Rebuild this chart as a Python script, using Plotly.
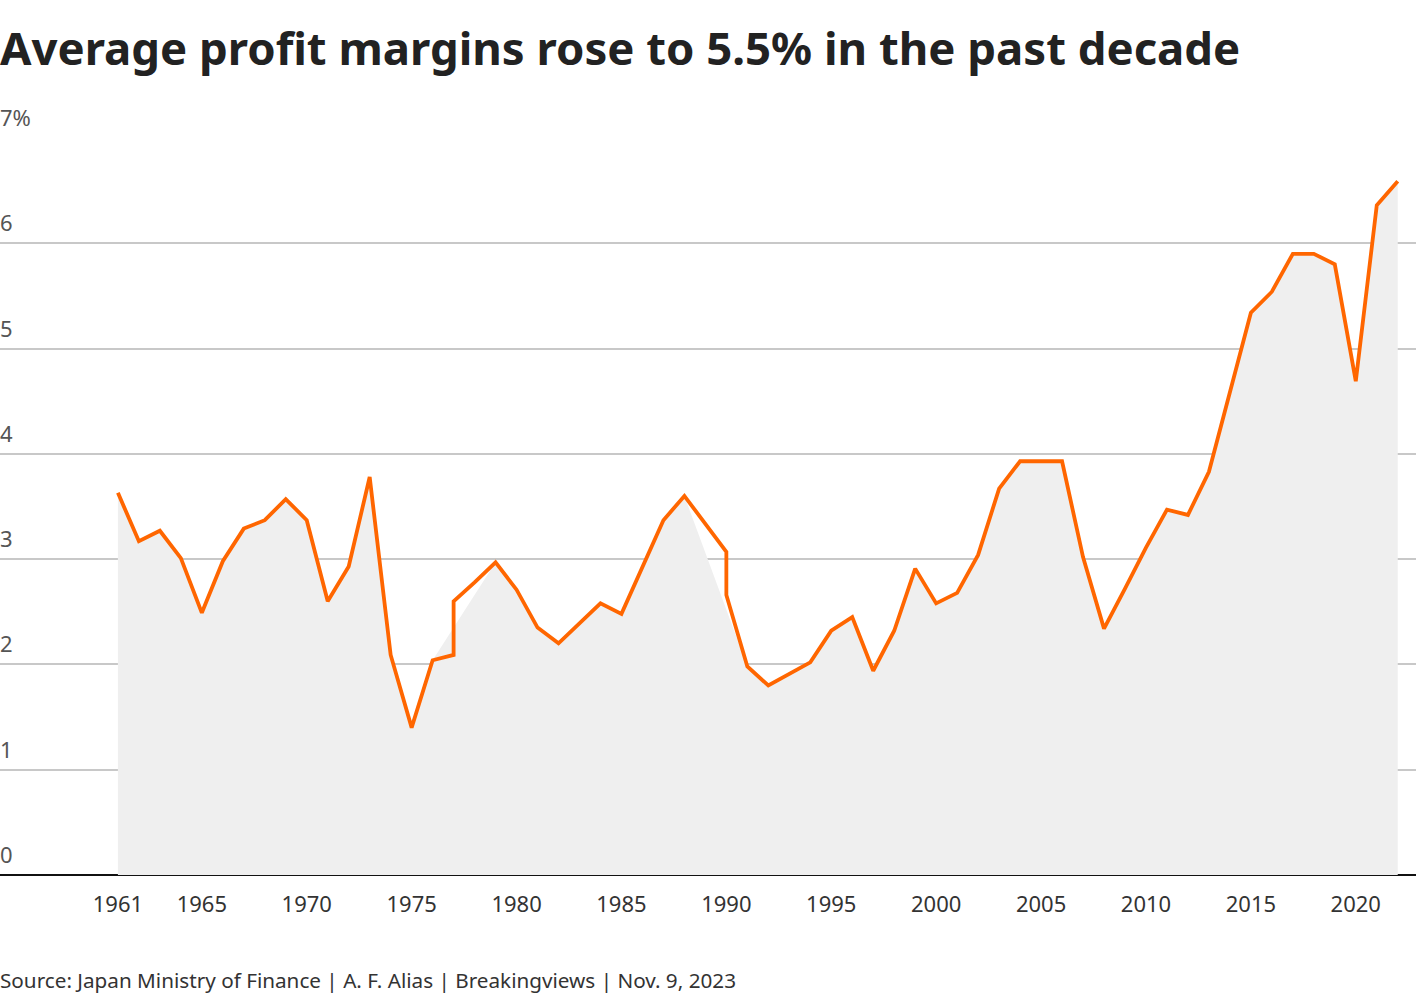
import plotly.graph_objects as go

# Line series (two points at 1977 and 1990 reflect vertical steps in the source)
line_years = [1961, 1962, 1963, 1964, 1965, 1966, 1967, 1968, 1969, 1970,
              1971, 1972, 1973, 1974, 1975, 1976, 1977, 1977, 1978, 1979,
              1980, 1981, 1982, 1983, 1984, 1985, 1986, 1987, 1988, 1989,
              1990, 1990, 1991, 1992, 1993, 1994, 1995, 1996, 1997, 1998,
              1999, 2000, 2001, 2002, 2003, 2004, 2005, 2006, 2007, 2008,
              2009, 2010, 2011, 2012, 2013, 2014, 2015, 2016, 2017, 2018,
              2019, 2020, 2021, 2022]
line_values = [3.63, 3.17, 3.27, 3.01, 2.49, 2.98, 3.29, 3.37, 3.57, 3.37,
               2.60, 2.93, 3.78, 2.09, 1.40, 2.04, 2.09, 2.60, 2.78, 2.97,
               2.71, 2.35, 2.20, 2.39, 2.58, 2.48, 2.93, 3.37, 3.60, 3.34,
               3.07, 2.66, 1.98, 1.80, 1.91, 2.02, 2.32, 2.45, 1.94, 2.32,
               2.91, 2.58, 2.68, 3.04, 3.67, 3.93, 3.93, 3.93, 3.02, 2.34,
               2.72, 3.11, 3.47, 3.42, 3.83, 4.58, 5.34, 5.54, 5.90, 5.90,
               5.80, 4.69, 6.36, 6.59]

# Shaded area series
area_years = [1961, 1962, 1963, 1964, 1965, 1966, 1967, 1968, 1969, 1970,
              1971, 1972, 1973, 1974, 1975, 1976, 1979,
              1980, 1981, 1982, 1983, 1984, 1985, 1986, 1987, 1988,
              1991, 1992, 1993, 1994, 1995, 1996, 1997, 1998,
              1999, 2000, 2001, 2002, 2003, 2004, 2005, 2006, 2007, 2008,
              2009, 2010, 2011, 2012, 2013, 2014, 2015, 2016, 2017, 2018,
              2019, 2020, 2021, 2022]
area_values = [3.63, 3.17, 3.27, 3.01, 2.49, 2.98, 3.29, 3.37, 3.57, 3.37,
               2.60, 2.93, 3.78, 2.09, 1.40, 2.04, 2.97,
               2.71, 2.35, 2.20, 2.39, 2.58, 2.48, 2.93, 3.37, 3.60,
               1.98, 1.80, 1.91, 2.02, 2.32, 2.45, 1.94, 2.32,
               2.91, 2.58, 2.68, 3.04, 3.67, 3.93, 3.93, 3.93, 3.02, 2.34,
               2.72, 3.11, 3.47, 3.42, 3.83, 4.58, 5.34, 5.54, 5.90, 5.90,
               5.80, 4.69, 6.36, 6.59]

x_tick_vals = [1961, 1965, 1970, 1975, 1980, 1985, 1990, 1995, 2000, 2005, 2010, 2015, 2020]
y_tick_vals = [0, 1, 2, 3, 4, 5, 6, 7]
y_tick_text = ["0", "1", "2", "3", "4", "5", "6", "7%"]

TITLE = "Average profit margins rose to 5.5% in the past decade"
SOURCE = "Source: Japan Ministry of Finance | A. F. Alias | Breakingviews | Nov. 9, 2023"

FONT = "Source Sans Pro, Noto Sans, Lato, sans-serif"

fig = go.Figure()
fig.add_trace(go.Scatter(
    x=area_years, y=area_values, mode="lines", fill="tozeroy",
    fillcolor="#efefef", line=dict(width=0, color="rgba(0,0,0,0)"),
    hoverinfo="skip", showlegend=False))
fig.add_trace(go.Scatter(
    x=line_years, y=line_values, mode="lines",
    line=dict(color="#ff6600", width=3.8), showlegend=False))

for v, t in zip(y_tick_vals, y_tick_text):
    fig.add_annotation(x=0, xref="paper", y=v, yref="y", text=t,
                       showarrow=False, xanchor="left", yanchor="bottom",
                       xshift=-2, yshift=4,
                       font=dict(family=FONT, size=22, color="#555555"))

fig.add_annotation(x=0, xref="paper", y=0, yref="paper", yshift=-105, xshift=-2,
                   text=SOURCE, showarrow=False, xanchor="left", yanchor="middle",
                   font=dict(family=FONT, size=20.7, color="#333333"))

fig.update_layout(
    width=1420, height=1000,
    margin=dict(l=0, r=4, t=138, b=125),
    paper_bgcolor="white", plot_bgcolor="white",
    font=dict(family=FONT, size=22, color="#333333"),
    title=dict(text="<b>" + TITLE + "</b>", x=0, xref="container", xanchor="left",
               y=0.951, yref="container", yanchor="middle",
               font=dict(family=FONT, size=45.5, color="#222222")),
    xaxis=dict(range=[1955.38, 2022.87], tickvals=x_tick_vals,
               showgrid=False, zeroline=False, showline=False,
               ticks="", ticklabelstandoff=14,
               tickfont=dict(family=FONT, size=22, color="#333333")),
    yaxis=dict(range=[0, 7], tickvals=y_tick_vals, showticklabels=False,
               showgrid=True, gridcolor="#c8c8c8", gridwidth=1.5,
               zeroline=True, zerolinecolor="#111111", zerolinewidth=2,
               showline=False, ticks=""),
)

fig.write_html("out.html", config={"displayModeBar": False},
               post_script="document.body.style.margin='0px';")
